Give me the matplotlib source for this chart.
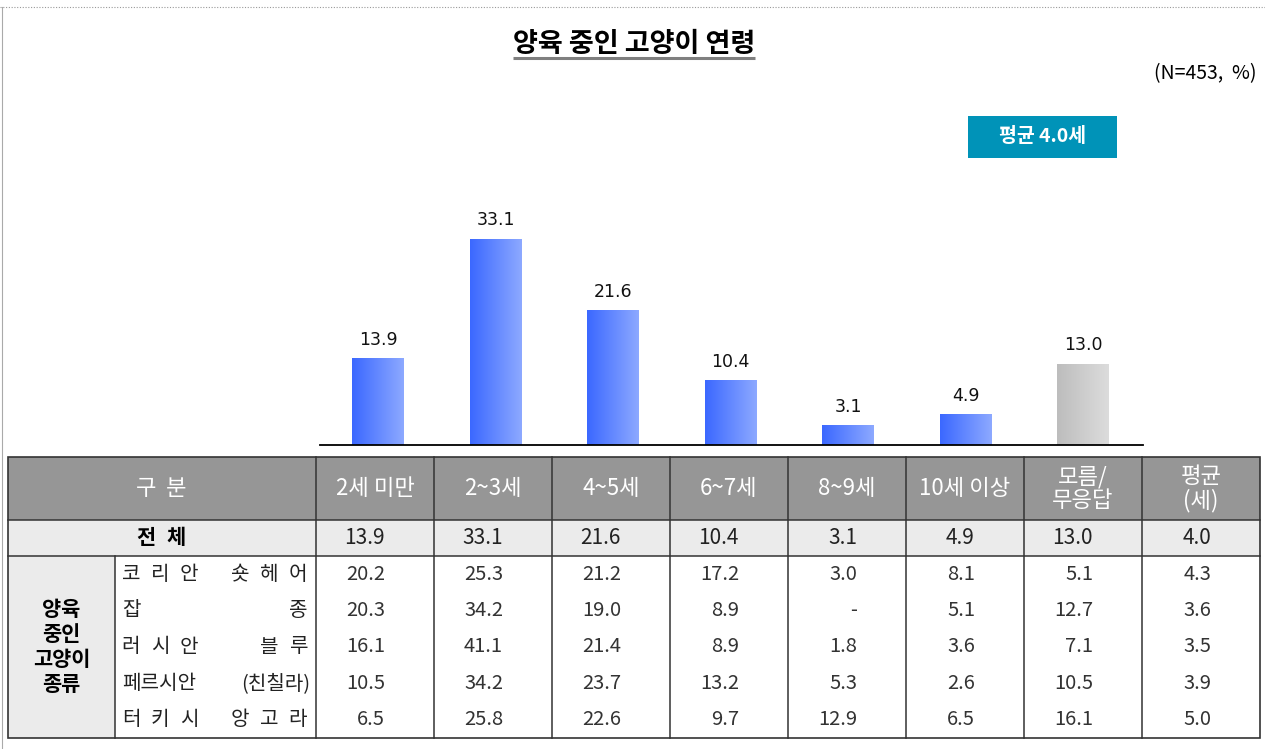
import matplotlib
matplotlib.use('Agg')
import matplotlib.pyplot as plt
import numpy as np
from matplotlib.patches import Rectangle
from matplotlib.lines import Line2D

plt.rcParams['font.family'] = ['Noto Sans CJK KR', 'DejaVu Sans']

# ---------------- data ----------------
title = "양육 중인 고양이 연령"
sample_note = "(N=453,  %)"
mean_badge = "평균 4.0세"
bar_categories = ["2세 미만", "2~3세", "4~5세", "6~7세", "8~9세", "10세 이상", "모름/무응답"]
bar_values = [13.9, 33.1, 21.6, 10.4, 3.1, 4.9, 13.0]
header_first = ["구", "분"]
header_labels = ["2세 미만", "2~3세", "4~5세", "6~7세", "8~9세", "10세 이상", "모름/\n무응답", "평균\n(세)"]
total_label = ["전", "체"]
total_values = ["13.9", "33.1", "21.6", "10.4", "3.1", "4.9", "13.0", "4.0"]
group_label = ["양육", "중인", "고양이", "종류"]
breed_names = [(["코", "리", "안"], ["숏", "헤", "어"]),
               (["잡"], ["종"]),
               (["러", "시", "안"], ["블", "루"]),
               ("페르시안", "(친칠라)"),
               (["터", "키", "시"], ["앙", "고", "라"])]
breed_values = [
    ["20.2", "25.3", "21.2", "17.2", "3.0", "8.1", "5.1", "4.3"],
    ["20.3", "34.2", "19.0", "8.9", "-", "5.1", "12.7", "3.6"],
    ["16.1", "41.1", "21.4", "8.9", "1.8", "3.6", "7.1", "3.5"],
    ["10.5", "34.2", "23.7", "13.2", "5.3", "2.6", "10.5", "3.9"],
    ["6.5", "25.8", "22.6", "9.7", "12.9", "6.5", "16.1", "5.0"],
]

# ---------------- figure ----------------
W, H = 1265, 749
fig = plt.figure(figsize=(W / 100, H / 100), dpi=100)
fig.patch.set_facecolor('white')

ax0 = fig.add_axes([0, 0, 1, 1])
ax0.set_xlim(0, W)
ax0.set_ylim(H, 0)
ax0.axis('off')

# page border lines
ax0.add_line(Line2D([0, W], [7, 7], color='#999999', lw=0.8, ls=(0, (1, 1.5))))
ax0.add_line(Line2D([1.5, 1.5], [7, H], color='#aaaaaa', lw=0.8))

# title
ax0.text(634, 44, title, ha='center', va='center', fontsize=19.5, fontweight='bold', color='black')
ax0.add_line(Line2D([513, 755], [58, 58], color='#7f7f7f', lw=2.2, solid_capstyle='butt'))
ax0.text(1256, 74, sample_note, ha='right', va='center', fontsize=14, color='black')

# badge
ax0.add_patch(Rectangle((968, 116), 149, 42, facecolor='#0093b8', edgecolor='none'))
ax0.text(1042.5, 136.5, mean_badge, ha='center', va='center', fontsize=14,
         fontweight='bold', color='white')

# ---------------- bars ----------------
base_y, top_y = 445, 200
x_left, x_right = 320, 1143
first_c, step = 378, 117.5
axb = fig.add_axes([x_left / W, (H - base_y) / H, (x_right - x_left) / W, (base_y - top_y) / H])
axb.set_facecolor('none')
xs = np.arange(len(bar_values))
bw = 52 / step
bars = axb.bar(xs, bar_values, width=bw, color='none', edgecolor='none')
blue_l, blue_r = np.array([0x3b, 0x68, 0xff]) / 255, np.array([0x8d, 0xa9, 0xff]) / 255
gray_l, gray_r = np.array([0xbd, 0xbd, 0xbd]) / 255, np.array([0xdc, 0xdc, 0xdc]) / 255
t = np.linspace(0, 1, 128)[None, :, None]
for i, p in enumerate(bars.patches):
    cl, cr = (gray_l, gray_r) if i == len(bar_values) - 1 else (blue_l, blue_r)
    grad = cl[None, None, :] * (1 - t) + cr[None, None, :] * t
    x0, w, h = p.get_x(), p.get_width(), p.get_height()
    axb.imshow(grad, extent=[x0, x0 + w, 0, h], aspect='auto', zorder=2, interpolation='bilinear')
axb.bar_label(bars, fmt='%.1f', padding=7, fontsize=12.5, family='DejaVu Sans', color='#111111')
axb.set_xlim(-(first_c - x_left) / step, (x_right - first_c) / step)
axb.set_ylim(0, (base_y - top_y) / ((base_y - 239) / 33.1))
for s in ['top', 'left', 'right']:
    axb.spines[s].set_visible(False)
axb.spines['bottom'].set_linewidth(1.3)
axb.spines['bottom'].set_color('black')
axb.set_xticks([])
axb.set_yticks([])

# ---------------- table ----------------
tl, tr = 8, 1260
col_edges = [316, 434, 552, 670, 788, 906, 1024, 1142, 1260]
sub_edge = 115
hy0, hy1 = 457, 520
ty1 = 556
by1 = 738
nrows = len(breed_values)
rh = (by1 - ty1) / nrows
line_c = '#333333'

ax0.add_patch(Rectangle((tl, hy0), tr - tl, hy1 - hy0, facecolor='#969696', edgecolor='none'))
ax0.add_patch(Rectangle((tl, hy1), tr - tl, ty1 - hy1, facecolor='#ebebeb', edgecolor='none'))
ax0.add_patch(Rectangle((tl, ty1), sub_edge - tl, by1 - ty1, facecolor='#ebebeb', edgecolor='none'))

# lines
ax0.add_patch(Rectangle((tl, hy0), tr - tl, by1 - hy0, facecolor='none', edgecolor=line_c, lw=1.2))
for yy in [hy1, ty1]:
    ax0.add_line(Line2D([tl, tr], [yy, yy], color=line_c, lw=1.1))
for xx in col_edges[:-1]:
    ax0.add_line(Line2D([xx, xx], [hy0, by1], color=line_c, lw=1.1))
ax0.add_line(Line2D([sub_edge, sub_edge], [ty1, by1], color=line_c, lw=1.1))

centers = [(a + b) / 2 for a, b in zip(col_edges[:-1], col_edges[1:])]
hyc = (hy0 + hy1) / 2
for k, ch in enumerate(header_first):
    ax0.text(146 + 30 * k, hyc, ch, ha='center', va='center', fontsize=16, color='white')
for c, lab in zip(centers, header_labels):
    lines = lab.split('\n')
    if len(lines) == 1:
        ax0.text(c, hyc, lab, ha='center', va='center', fontsize=16, color='white')
    else:
        for k, ln in enumerate(lines):
            ax0.text(c, hyc + (k - 0.5) * 24, ln, ha='center', va='center', fontsize=16,
                     color='white')

tyc = (hy1 + ty1) / 2
for k, ch in enumerate(total_label):
    ax0.text(146 + 30 * k, tyc, ch, ha='center', va='center', fontsize=15,
             fontweight='bold', color='black')
for c, v in zip(centers, total_values):
    ax0.text(c + 10, tyc, v, ha='right', va='center', fontsize=15, color='#222222')

gyc = (ty1 + by1) / 2
ng = len(group_label)
for k, ln in enumerate(group_label):
    ax0.text((tl + sub_edge) / 2, gyc + (k - (ng - 1) / 2) * 25, ln, ha='center',
             va='center', fontsize=15, fontweight='bold', color='black')

pitch = 29
for r in range(nrows):
    yc = ty1 + rh * (r + 0.5)
    left_w, right_w = breed_names[r]
    if isinstance(left_w, str):
        ax0.text(122, yc, left_w, ha='left', va='center', fontsize=14.5, color='#222222')
        ax0.text(310, yc, right_w, ha='right', va='center', fontsize=14.5, color='#222222')
    else:
        for k, ch in enumerate(left_w):
            ax0.text(131 + pitch * k, yc, ch, ha='center', va='center', fontsize=14.5,
                     color='#222222')
        n = len(right_w)
        for k, ch in enumerate(right_w):
            ax0.text(298 - pitch * (n - 1 - k), yc, ch, ha='center', va='center',
                     fontsize=14.5, color='#222222')
    for c, v in zip(centers, breed_values[r]):
        ax0.text(c + 10, yc, v, ha='right', va='center', fontsize=14.5, color='#333333')

fig.savefig('out.png', dpi=100, facecolor='white')
